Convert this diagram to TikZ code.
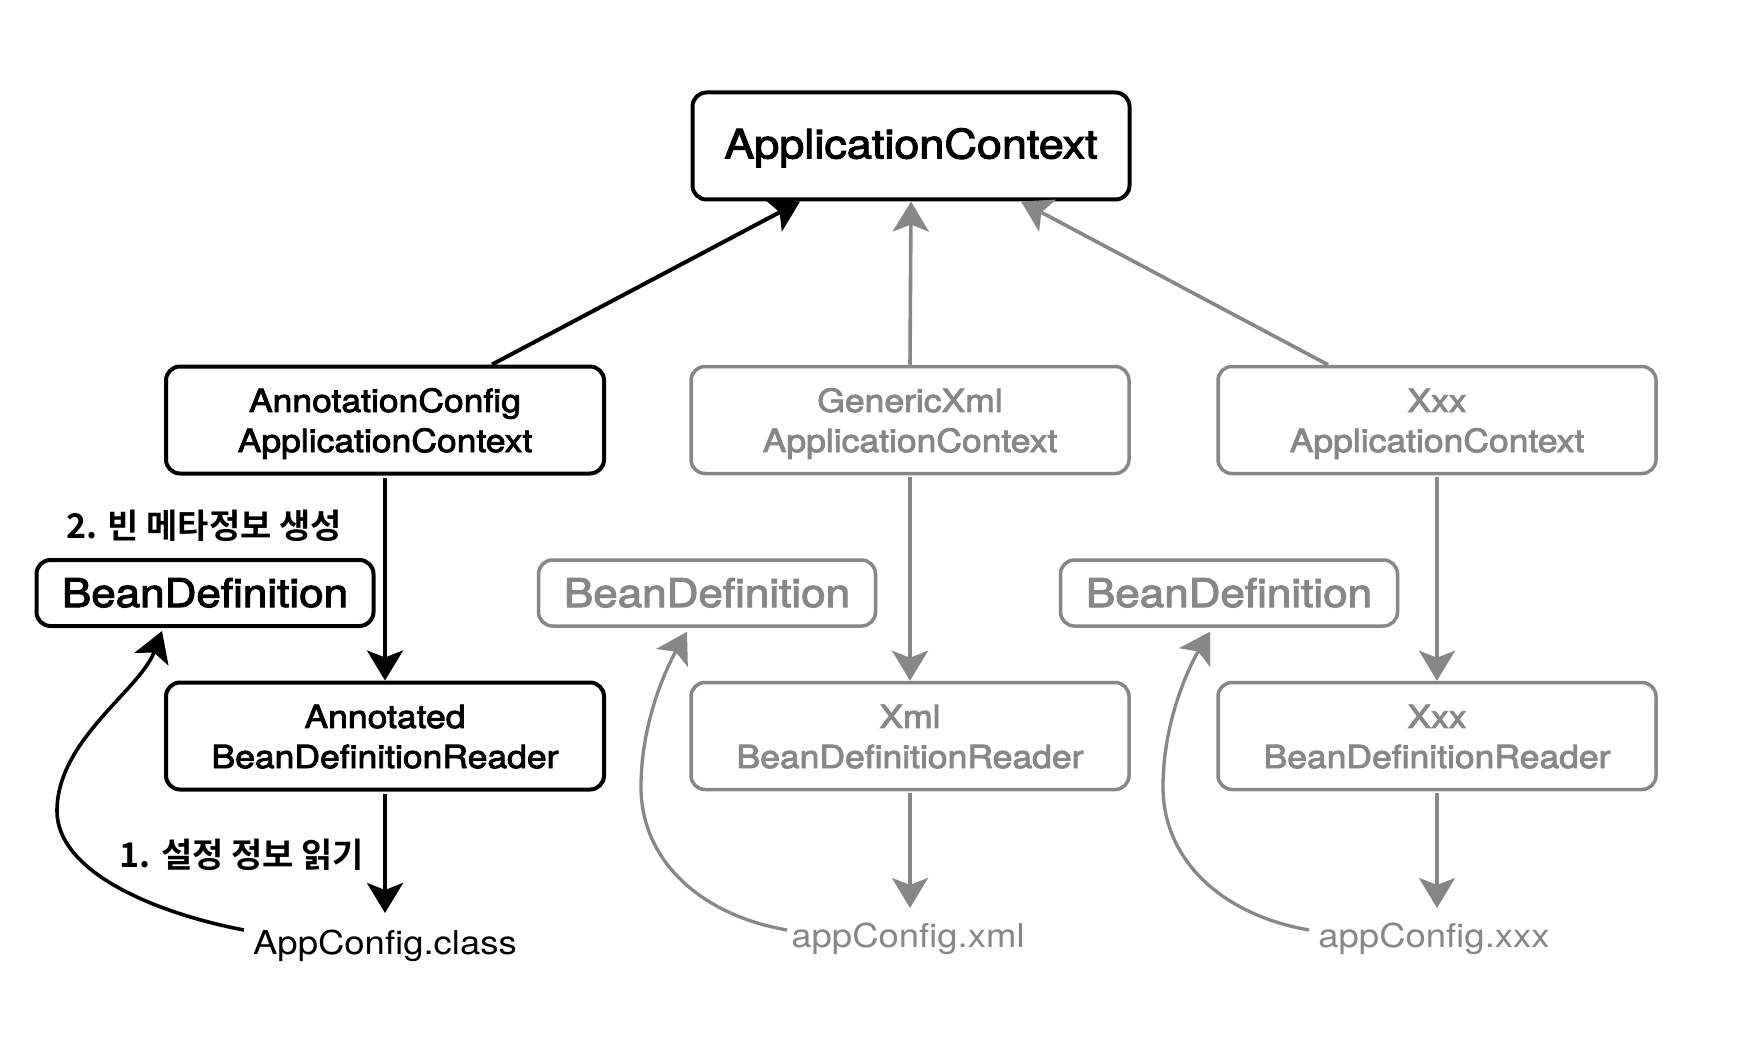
\documentclass[tikz,border=0pt]{standalone}
\usepackage{fontspec}
\usepackage{graphicx}
\setmainfont{TeX Gyre Heros}
\newfontfamily\boxfont{TeX Gyre Heros}[FakeBold=2.5]
\newfontfamily\krbold{Noto Sans CJK KR Bold}
\usetikzlibrary{arrows.meta,calc}
\definecolor{greyc}{RGB}{135,135,135}
\newcommand\lowtxt[2]{\raisebox{-#1}[\height][\depth]{\scalebox{1}[0.9]{\begin{tabular}{@{}c@{}}#2\end{tabular}}}}
\begin{document}
\begin{tikzpicture}[x=1pt,y=-1pt,
  box/.style={draw, rounded corners=14pt, line width=4pt, inner sep=0pt, align=center,
    font=\boxfont\fontsize{35.5}{44.5}\selectfont},
  gbox/.style={box, draw=greyc, text=greyc, line width=3.5pt},
  bdbox/.style={minimum width=337pt, minimum height=66pt, font=\boxfont\fontsize{44}{50}\selectfont},
  ctxbox/.style={minimum width=438pt, minimum height=107pt},
  cfgtext/.style={inner sep=0pt, text height=23.6pt, text depth=0pt, font=\fontsize{36.5}{42}\selectfont},
  lbl/.style={inner sep=0pt, font=\krbold\fontsize{34}{40}\selectfont},
  arr/.style={line width=4pt, -{Stealth[length=30pt,width=36pt,inset=7pt]}},
  garr/.style={arr, color=greyc, line width=3.6pt}
]
\fill[white] (0,0) rectangle (1760,1040);
\useasboundingbox (0,0) rectangle (1760,1040);

% top
\node[box, minimum width=437pt, minimum height=107pt, font=\boxfont\fontsize{45}{54}\selectfont] (ac) at (911,146) {\lowtxt{2.7pt}{ApplicationContext}};

% contexts
\node[box, ctxbox] (acA) at (385,420) {\lowtxt{4pt}{AnnotationConfig\\ApplicationContext}};
\node[gbox, ctxbox] (acG) at (910,420) {\lowtxt{4pt}{GenericXml\\ApplicationContext}};
\node[gbox, ctxbox] (acX) at (1437,420) {\lowtxt{4pt}{Xxx\\ApplicationContext}};

% bean definitions
\node[box, bdbox] (bd1) at (205,593) {\lowtxt{5pt}{BeanDefinition}};
\node[gbox, bdbox] (bd2) at (707,593) {\lowtxt{5pt}{BeanDefinition}};
\node[gbox, bdbox] (bd3) at (1229,593) {\lowtxt{5pt}{BeanDefinition}};

% readers
\node[box, ctxbox] (rdA) at (385,736) {\lowtxt{4pt}{Annotated\\BeanDefinitionReader}};
\node[gbox, ctxbox] (rdG) at (910,736) {\lowtxt{4pt}{Xml\\BeanDefinitionReader}};
\node[gbox, ctxbox] (rdX) at (1437,736) {\lowtxt{4pt}{Xxx\\BeanDefinitionReader}};

% config texts
\node[cfgtext] (cfgA) at (385,943) {\scalebox{1}[0.9]{AppConfig.class}};
\node[cfgtext, text=greyc] (cfgG) at (908,936) {\scalebox{1}[0.9]{appConfig.xml}};
\node[cfgtext, text=greyc] (cfgX) at (1434,936) {\scalebox{1}[0.9]{appConfig.xxx}};

% labels
\node[lbl] (l2) at (204,526) {2. 빈 메타정보 생성};
\node[lbl] (l1) at (242,855) {1. 설정 정보 읽기};

% arrows up to ApplicationContext
\draw[arr] ([xshift=107pt]acA.north) -- ([xshift=-111pt]ac.south);
\draw[garr] (acG.north) -- (ac.south);
\draw[garr] ([xshift=-109pt]acX.north) -- ([xshift=110pt]ac.south);

% down arrows
\draw[arr, shorten <=2pt] (acA.south) -- (rdA.north);
\draw[garr, shorten <=2pt] (acG.south) -- (rdG.north);
\draw[garr, shorten <=2pt] (acX.south) -- (rdX.north);
\draw[arr, shorten <=2pt, shorten >=18pt] (rdA.south) -- (rdA.south |- cfgA.north);
\draw[garr, shorten <=2pt, shorten >=16pt] (rdG.south) -- (rdG.south |- cfgG.north);
\draw[garr, shorten <=2pt, shorten >=16pt] (rdX.south) -- (rdX.south |- cfgX.north);

% curved arrows
\draw[arr, line width=3.6pt] ($(cfgA.west)+(-9,-13)$) .. controls (150,912) and (57,870) .. (57,811)
  .. controls (57,740) and (140,690) .. ([xshift=-43pt,yshift=-3pt]bd1.south);
\draw[garr, line width=3.3pt] ($(cfgG.west)+(-4,-6)$) .. controls (700,915) and (641,860) .. (641,787)
  .. controls (641,720) and (668,665) .. ([xshift=-20pt,yshift=-4pt]bd2.south);
\draw[garr, line width=3.3pt] ($(cfgX.west)+(-9,-6)$) .. controls (1222,915) and (1163,860) .. (1163,787)
  .. controls (1163,720) and (1190,665) .. ([xshift=-19pt,yshift=-4pt]bd3.south);
\end{tikzpicture}
\end{document}
